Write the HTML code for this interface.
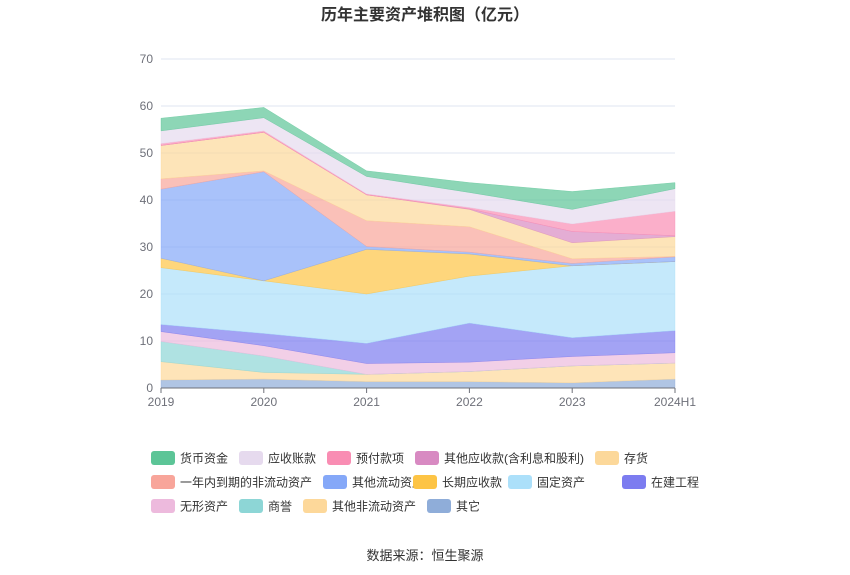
<!DOCTYPE html>
<html><head><meta charset="utf-8"><style>
body{margin:0;background:#fff;font-family:"Liberation Sans","Noto Sans CJK SC",sans-serif;}
#wrap{position:relative;width:850px;height:575px;overflow:hidden}
svg text{font-family:"Liberation Sans","Noto Sans CJK SC",sans-serif}
</style></head><body>
<div id="wrap">
<svg id="chart" width="850" height="575">
<text x="425" y="20" text-anchor="middle" font-size="16" font-weight="bold" fill="#333">历年主要资产堆积图（亿元）</text>
<g id="grid"></g><g id="areas"></g><g id="axes"></g><g id="legend"></g>
<text x="425" y="560" text-anchor="middle" font-size="13" fill="#333">数据来源：恒生聚源</text>
</svg></div>
<script>
const categories=["2019","2020","2021","2022","2023","2024H1"];
const seriesNames=["其它","其他非流动资产","商誉","无形资产","在建工程","固定资产","长期应收款","其他流动资产","一年内到期的非流动资产","存货","其他应收款(含利息和股利)","预付款项","应收账款","货币资金"];
const s_other=[1.7,1.9,1.35,1.35,1.1,1.9];
const s_otherNonCur=[3.9,1.4,1.55,2.15,3.6,3.4];
const s_goodwill=[4.3,3.5,0,0,0,0];
const s_intangible=[2.1,2.2,2.3,2.0,2.0,2.2];
const s_cip=[1.5,2.6,4.3,8.3,4.0,4.7];
const s_fixed=[12.1,11.2,10.5,10.0,15.3,14.7];
const s_ltRecv=[2.0,0,9.5,4.7,0,0];
const s_otherCur=[14.7,23.2,0.6,0.4,0.5,1.0];
const s_dueOneYear=[2.2,0.2,5.5,5.4,1.0,0.1];
const s_inventory=[7.1,8.2,5.5,3.7,3.4,4.2];
const s_otherRecv=[0,0,0,0.1,2.4,0.2];
const s_prepay=[0.4,0.3,0.2,0.3,1.6,5.2];
const s_ar=[2.7,2.8,3.7,3.2,3.1,4.8];
const s_cash=[2.7,2.2,1.2,2.1,3.8,1.3];
const seriesData=[s_other,s_otherNonCur,s_goodwill,s_intangible,s_cip,s_fixed,s_ltRecv,s_otherCur,s_dueOneYear,s_inventory,s_otherRecv,s_prepay,s_ar,s_cash];
const yTicks=[0,10,20,30,40,50,60,70];
const colors=["#8fadd9","#fdd89a","#8dd6d6","#edbadd","#7c7cf0","#ace0fa","#fdc445","#85a8f8","#f8a59a","#fcd89a","#d88ac2","#f98db3","#e6daee","#5cc597"];
const NS="http://www.w3.org/2000/svg";
const X0=161,X1=675,Y0=388,YTOP=59;
const xs=i=>X0+(X1-X0)*i/(categories.length-1);
const ys=v=>Y0-(Y0-YTOP)*v/70;
function mk(t,a,p){const e=document.createElementNS(NS,t);for(const k in a)e.setAttribute(k,a[k]);p.appendChild(e);return e;}
const grid=document.getElementById('grid'),axes=document.getElementById('axes'),areas=document.getElementById('areas'),legend=document.getElementById('legend');
yTicks.forEach(v=>{
 if(v>0){const l=mk('line',{x1:X0,x2:X1,y1:ys(v),y2:ys(v),stroke:'#dfe4f2'},grid);
 
 }
 const t=mk('text',{x:153,y:ys(v)+4,'text-anchor':'end','font-size':12,fill:'#6e7079'},axes);t.textContent=v;
 
 
});
let cum=categories.map(()=>0);
seriesData.forEach((d,si)=>{
 const lower=cum.slice();cum=cum.map((c,i)=>c+d[i]);
 let p='M'+categories.map((c,i)=>xs(i)+','+ys(cum[i])).join('L');
 for(let i=categories.length-1;i>=0;i--)p+='L'+xs(i)+','+ys(lower[i]);
 const a=mk('path',{d:p+'Z',fill:colors[si],'fill-opacity':0.7,stroke:colors[si],'stroke-opacity':0.7,'stroke-width':0.5},areas);
 
 
});
const ax=mk('line',{x1:X0,x2:X1,y1:Y0,y2:Y0,stroke:'#6e7079'},axes);


categories.forEach((c,i)=>{
 mk('line',{x1:xs(i),x2:xs(i),y1:Y0,y2:Y0+5,stroke:'#6e7079'},axes);
 const t=mk('text',{x:xs(i),y:Y0+18,'text-anchor':'middle','font-size':12,fill:'#6e7079'},axes);t.textContent=c;
 
 
});
const legPos=[[13,151,458],[12,239,458],[11,327,458],[10,415,458],[9,595,458],[8,151,482],[7,323,482],[6,413,482],[5,508,482],[4,622,482],[3,151,506],[2,239,506],[1,303,506],[0,427,506]];
legPos.forEach(([si,x,y])=>{
 const g=mk('g',{},legend);
 
 
 mk('rect',{x:x,y:y-7,width:24,height:14,rx:3,fill:colors[si]},g);
 const t=mk('text',{x:x+29,y:y+4.5,'font-size':12,fill:'#333'},g);t.textContent=seriesNames[si];
});
</script></body></html>
